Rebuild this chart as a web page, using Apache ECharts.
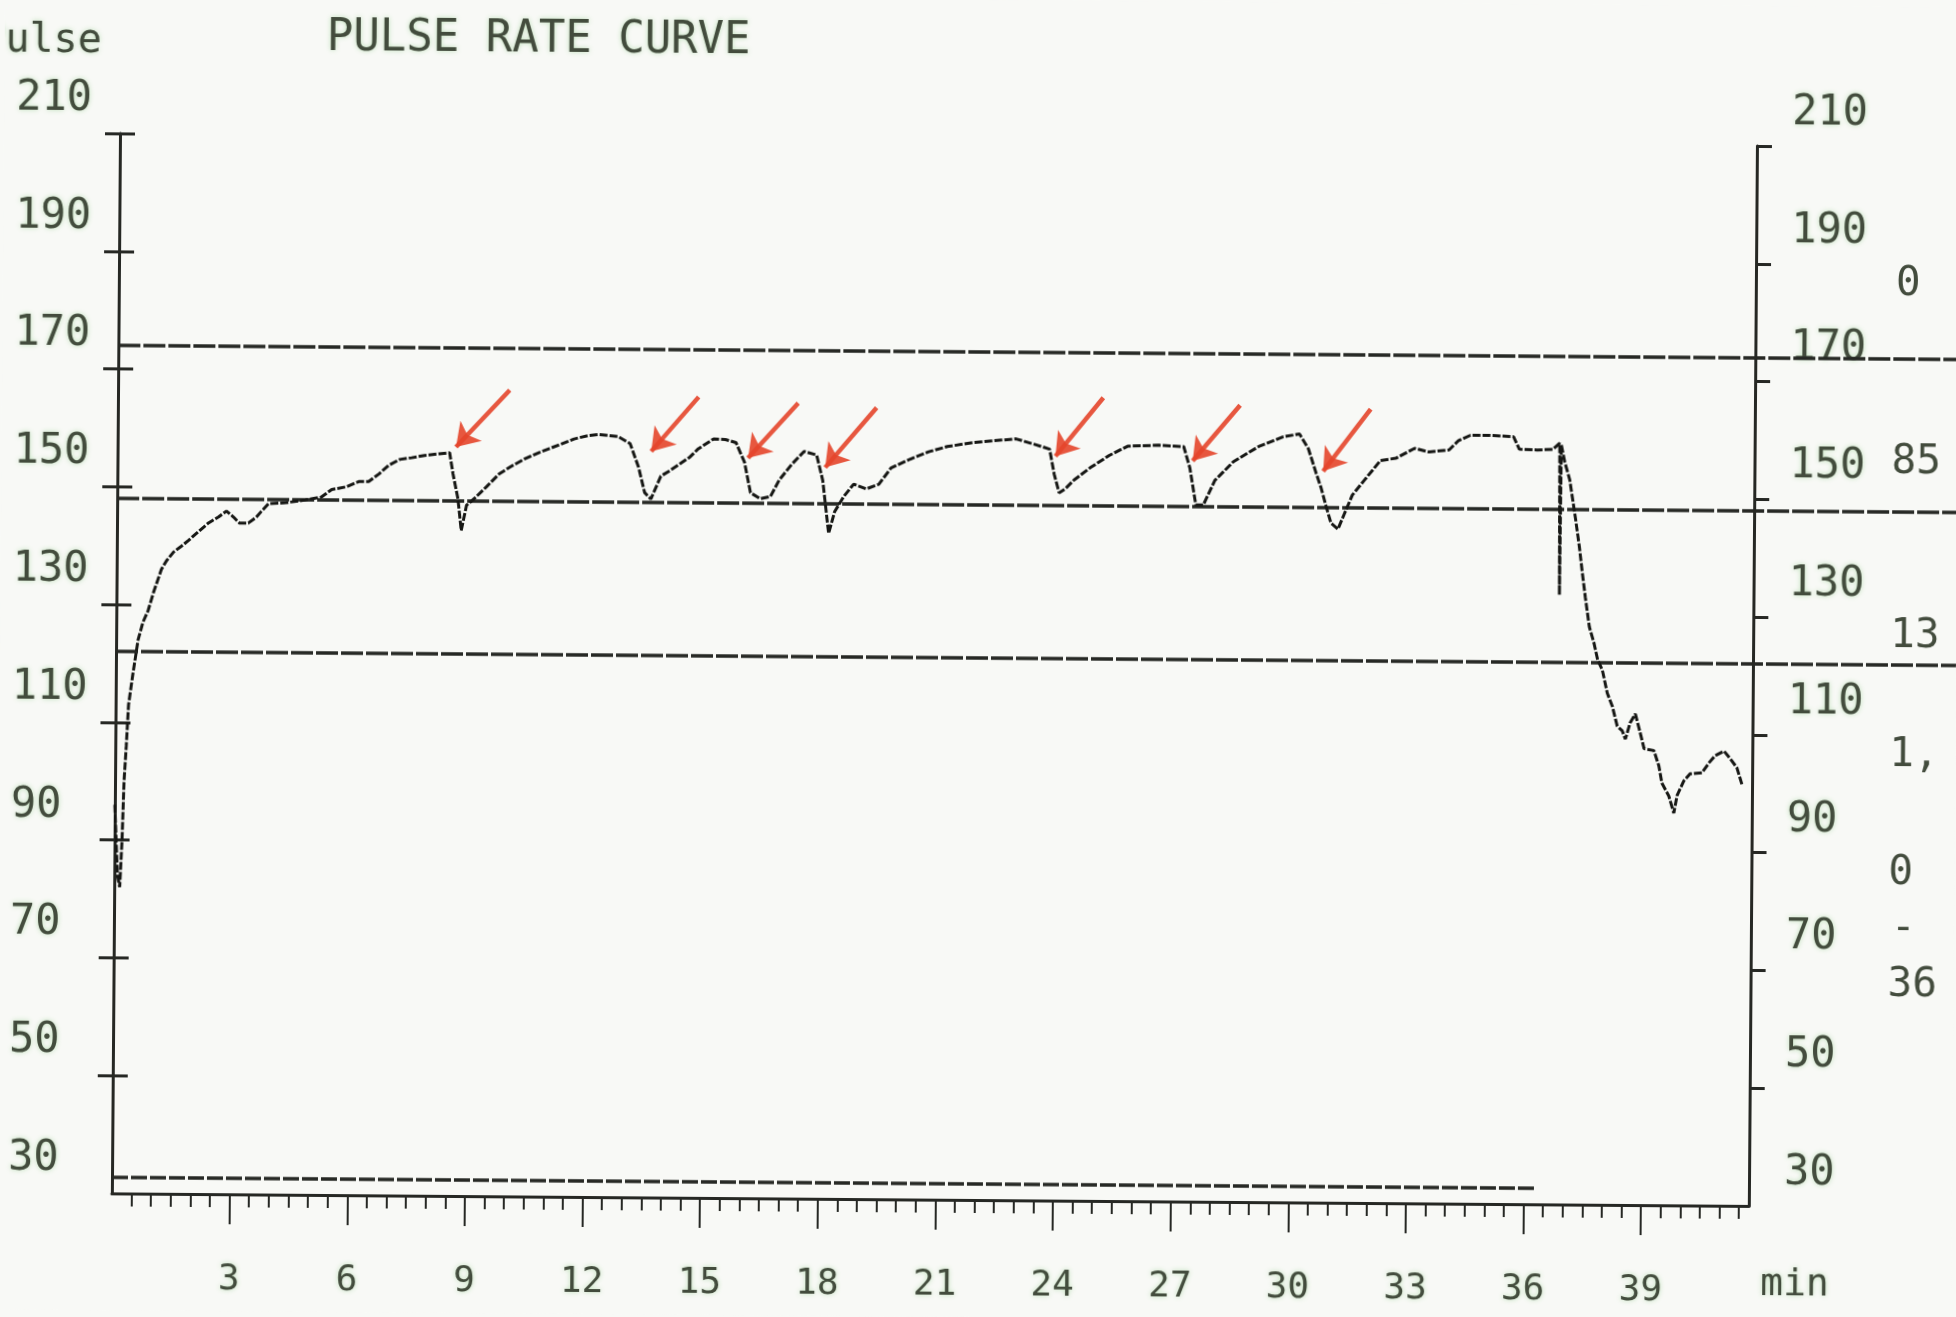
<!DOCTYPE html>
<html><head><meta charset="utf-8">
<script src="https://cdn.jsdelivr.net/npm/echarts@6/dist/echarts.min.js"></script>
<style>
html,body{margin:0;padding:0;background:#f8f9f6;overflow:hidden;}
#c{width:1956px;height:1317px;transform:rotate(0.44deg);transform-origin:978px 658px;}
</style></head><body><div id="c"></div>
<script>
// ---- data ----
const timeMin = [0.00,0.08,0.14,0.19,0.23,0.28,0.33,0.43,0.56,0.68,0.81,0.94,1.14,1.27,1.45,1.65,1.83,2.08,2.34,2.59,2.79,2.97,3.12,3.35,3.55,3.68,3.86,4.3,4.8,5.2,5.47,5.85,6.16,6.41,6.67,6.92,7.2,7.5,7.83,8.2,8.47,8.56,8.69,8.78,8.91,9.1,9.42,9.74,10.05,10.37,10.7,11.0,11.3,11.64,12.0,12.27,12.75,13.07,13.29,13.45,13.61,13.86,14.1,14.34,14.6,14.81,15.2,15.5,15.77,15.99,16.15,16.4,16.66,16.88,17.2,17.51,17.83,17.99,18.15,18.3,18.53,18.78,19.1,19.42,19.73,20.21,20.69,21.16,21.8,22.43,22.91,23.38,23.77,23.89,24.02,24.18,24.4,24.81,25.29,25.76,26.56,27.19,27.35,27.51,27.7,27.99,28.46,29.1,29.73,30.14,30.37,30.57,30.7,30.83,30.96,31.14,31.3,31.5,31.8,32.21,32.6,33.08,33.45,33.96,34.2,34.5,35.0,35.6,35.75,36.2,36.6,36.78,36.8,36.82,36.91,37.04,37.12,37.2,37.3,37.38,37.46,37.57,37.69,37.79,37.91,38.04,38.17,38.3,38.43,38.51,38.63,38.76,38.86,38.99,39.24,39.37,39.45,39.63,39.76,39.84,40.01,40.17,40.47,40.65,40.8,41.03,41.18,41.36,41.49];
const pulse = [96,84,82,90,100,106,113,118,124,127,129,132,136,137.5,139,140,141,142.5,144,145,146,145,144,144,145,146,147.3,147.5,148,148.5,149.8,150.3,151.2,151.2,152.5,154,155,155.3,155.7,156,156.2,152.6,148.4,143,147.3,148.4,150.5,152.7,154,155.2,156.2,157,157.8,158.7,159.3,159.5,159.2,158,154,149.7,148.6,152.5,153.5,154.6,155.8,157.2,158.9,158.8,158.3,155,149.8,148.8,149.2,152,154.7,156.9,156.3,152,143,146.7,149.3,151.4,150.6,151.4,154.2,155.7,157,157.9,158.6,159,159.3,158.4,157.6,153.4,150.2,150.9,152.4,154.5,156.6,158.2,158.4,158.2,154.6,148.3,148.3,152.5,155.7,158.3,160,160.5,158,153.9,151.4,148.3,145.4,144.4,147,150.2,152.7,156.1,156.5,158.2,157.6,158,159.6,160.5,160.5,160.3,158.2,158.1,158.2,159.3,133.5,159,156.1,153.1,149.7,146.3,141.7,137.3,133.2,128.1,125.4,122.5,120.8,116.9,114.7,111.3,110.5,109.1,111.9,113.4,110.9,107.5,107.2,104.6,101.7,99.5,96.6,99.6,102.1,103.3,103.5,105.2,106.4,107.2,106,104.4,101.6];
const yTickLabels = [210,190,170,150,130,110,90,70,50,30];
const xTickLabels = [3,6,9,12,15,18,21,24,27,30,33,36,39];
const limitLines = [174,148,122];
const recordBarLevel = 32.8;
const recordBarEnd = 36.3;
const arrowTips  = [[8.63,157.2],[13.61,156.7],[16.08,155.7],[18.05,154.2],[23.92,156.4],[27.42,155.8],[30.75,154.2]];
const arrowTails = [[9.99,166.9],[14.81,166.0],[17.35,165.1],[19.35,164.4],[25.13,166.4],[28.62,165.3],[31.95,164.8]];
const sideNotes = ['0','85','13','1,','0','-','36'];

// ---- styling ----
const FONT = "'DejaVu Sans Mono','Liberation Mono',monospace";
const INK = '#262824';
const TXT = '#434c3d';
const GLOW = 'rgba(120,195,110,0.45)';
const txt = (size) => ({fontFamily: FONT, fontSize: size, color: TXT, fontWeight: 'normal', textShadowColor: GLOW, textShadowBlur: 5});

const X_MAX = 41.75;
const minorTicks = [];
for (let v = 0.5; v < X_MAX; v += 0.5) minorTicks.push(v);
const yTickMarks = yTickLabels.filter(v => v !== 30);

const sidePos = [[1893,277],[1890,455],[1890,629],[1890,748],[1890,866],[1893,922],[1890,978]];

const chart = echarts.init(document.getElementById('c'));
const yBase = {type:'value', gridIndex:0, min:30, max:210, interval:20, splitLine:{show:false}};
const option = {
  backgroundColor: '#f8f9f6',
  animation: false,
  title: {text:'PULSE RATE CURVE', left:322, top:22, padding:0, textStyle: txt(44)},
  grid: [
    {left:116, top:140, width:1637, height:1060, containLabel:false, outerBoundsMode:'none'},
    {left:116, top:140, right:0, height:1060, containLabel:false, outerBoundsMode:'none'}
  ],
  xAxis: [
    {type:'value', gridIndex:0, min:0, max:X_MAX, interval:0.5, position:'bottom',
     axisLine:{show:true, onZero:false, lineStyle:{color:INK, width:3}},
     axisTick:{show:true, length:13, customValues:minorTicks, lineStyle:{color:INK, width:2}},
     axisLabel:{show:false}, splitLine:{show:false}},
    {type:'value', gridIndex:0, min:0, max:X_MAX, interval:3, position:'bottom',
     axisLine:{show:false, onZero:false},
     axisTick:{show:true, length:30, customValues:xTickLabels, lineStyle:{color:INK, width:2}},
     axisLabel:Object.assign({margin:68, customValues:xTickLabels}, txt(36)),
     splitLine:{show:false},
     name:'min', nameLocation:'end', nameGap:12, nameMoveOverlap:false,
     nameTextStyle:Object.assign({align:'left', verticalAlign:'top', lineHeight:158}, txt(38))},
    {type:'value', gridIndex:1, min:0, max:1, show:false}
  ],
  yAxis: [
    Object.assign({}, yBase, {position:'left',
     axisLine:{show:true, onZero:false, lineStyle:{color:INK, width:3}},
     axisTick:{show:true, length:15, customValues:yTickMarks, lineStyle:{color:INK, width:3}},
     axisLabel:Object.assign({align:'left', margin:104, verticalAlign:'bottom', lineHeight:68, customValues:yTickLabels}, txt(42)),
     name:'Pulse', nameLocation:'end', nameGap:91, nameMoveOverlap:false,
     nameTextStyle:Object.assign({align:'right', verticalAlign:'middle', padding:[0,19,0,0]}, txt(40))}),
    Object.assign({}, yBase, {position:'right',
     axisLine:{show:true, onZero:false, lineStyle:{color:INK, width:3}},
     axisTick:{show:true, length:15, customValues:yTickMarks, lineStyle:{color:INK, width:3}},
     axisLabel:Object.assign({align:'left', margin:35, verticalAlign:'bottom', lineHeight:66, customValues:yTickLabels}, txt(42))}),
    Object.assign({}, yBase, {position:'left',
     axisLine:{show:false}, axisLabel:{show:false},
     axisTick:{show:true, inside:true, length:15, customValues:yTickMarks, lineStyle:{color:INK, width:3}}}),
    Object.assign({}, yBase, {position:'right',
     axisLine:{show:false}, axisLabel:{show:false},
     axisTick:{show:true, inside:true, length:15, customValues:yTickMarks, lineStyle:{color:INK, width:3}}}),
    {type:'value', gridIndex:1, min:30, max:210, show:false}
  ],
  series: [
    {type:'line', name:'limits', xAxisIndex:2, yAxisIndex:4, data:[[0,30],[1,30]],
     symbol:'none', lineStyle:{opacity:0}, silent:true,
     markLine:{silent:true, symbol:['none','none'], label:{show:false},
       lineStyle:{color:INK, width:3.5, type:[22,3]},
       data: limitLines.map(v => ({yAxis:v}))}},
    {type:'line', name:'pulse', xAxisIndex:0, yAxisIndex:0,
     data: timeMin.map((t,i) => [t, pulse[i]]),
     symbol:'none', showSymbol:false, z:5,
     lineStyle:{color:'#161714', width:3, type:[8,2]},
     markLine:{silent:true, symbol:['none','none'], label:{show:false},
       lineStyle:{color:INK, width:3.5, type:[16,3]},
       data:[[{coord:[0, recordBarLevel]}, {coord:[recordBarEnd, recordBarLevel]}]]}},
    {type:'lines', name:'arrows', coordinateSystem:'cartesian2d', xAxisIndex:0, yAxisIndex:0, z:10,
     symbol:['none','arrow'], symbolSize:[0,22],
     lineStyle:{color:'#e4452b', width:4.5, opacity:0.9, curveness:0},
     data: arrowTips.map((tip,i) => ({coords:[arrowTails[i], tip]}))}
  ],
  graphic: sideNotes.map((s,i) => ({type:'text', x:sidePos[i][0], y:sidePos[i][1], silent:true,
     style:{text:s, fill:TXT, font:"41px 'DejaVu Sans Mono'", verticalAlign:'middle', align:'left',
            shadowColor:GLOW, shadowBlur:5}}))
};
chart.setOption(option);
</script></body></html>
